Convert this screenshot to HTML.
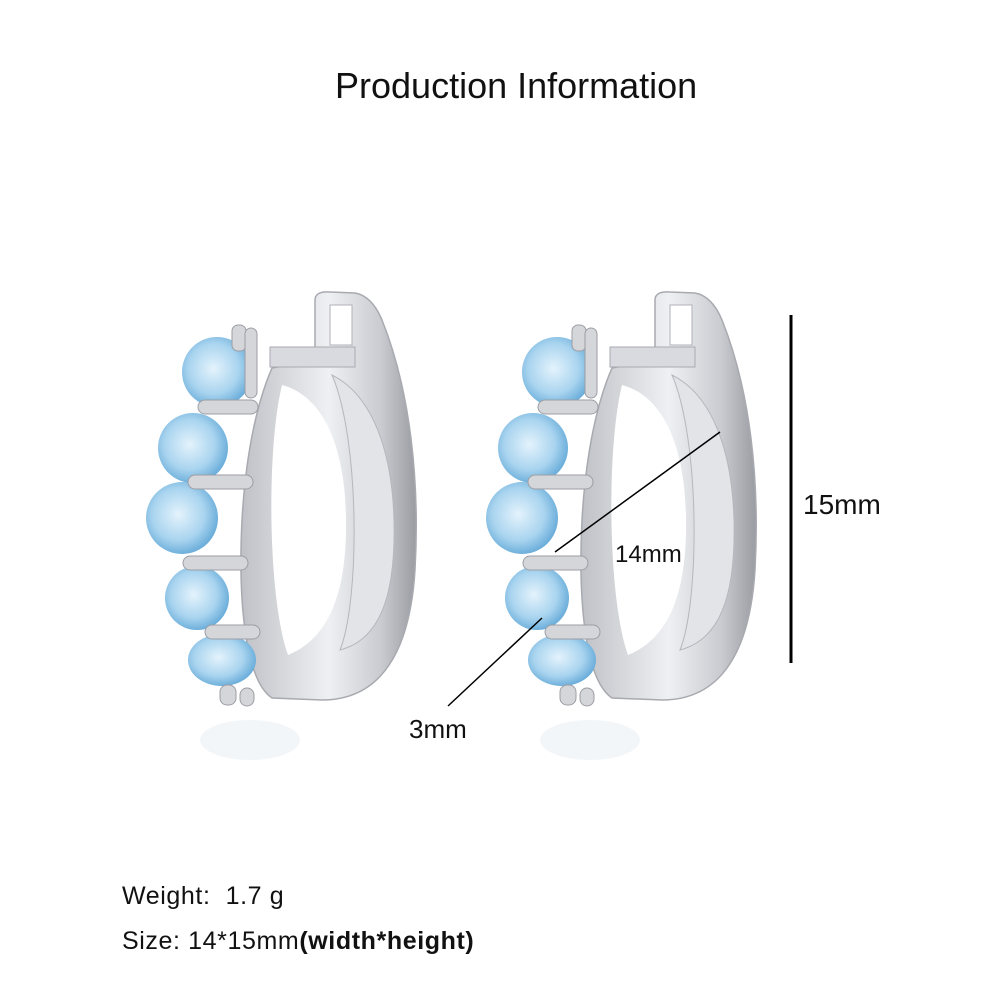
<!DOCTYPE html>
<html><head><style>
body{margin:0;background:#fff;width:1000px;height:1000px;overflow:hidden;position:relative;font-family:"Liberation Sans",sans-serif;color:#111}
.t{position:absolute;white-space:nowrap}
</style></head><body>
<svg width="1000" height="1000" style="position:absolute;left:0;top:0">
<defs>
<linearGradient id="s" x1="0" x2="1" y1="0" y2="0">
<stop offset="0" stop-color="#bfc1c6"/><stop offset="0.5" stop-color="#eef0f3"/><stop offset="0.8" stop-color="#c9cbd0"/><stop offset="1" stop-color="#9a9ca2"/>
</linearGradient>
<radialGradient id="b" cx="0.45" cy="0.45" r="0.6">
<stop offset="0" stop-color="#e4f3fc"/><stop offset="0.6" stop-color="#a9d4ef"/><stop offset="1" stop-color="#5fa6d6"/>
</radialGradient>
<g id="e">
<path d="M315,300 Q315,291 330,292 L355,293 Q372,296 382,320 C410,390 420,480 415,570 C410,650 382,700 322,700 L272,698 C245,680 238,600 242,520 C246,450 258,400 272,368 L315,360 Z" fill="url(#s)" stroke="#a8aab0" stroke-width="1.5"/>
<path d="M330,305 L352,305 L352,345 L330,345 Z" fill="#fff" stroke="#b0b2b8"/>
<path d="M332,375 C372,395 392,450 394,520 C396,600 378,640 340,650 C360,600 360,440 332,375 Z" fill="#e2e4e8" stroke="#b5b7bc"/>
<path d="M282,385 C320,395 345,440 346,520 C347,600 325,640 288,655 C268,600 266,450 282,385 Z" fill="#fff"/>
<rect x="270" y="347" width="85" height="20" fill="#d8dadf" stroke="#a8aab0"/>
<circle cx="217" cy="372" r="35" fill="url(#b)"/>
<circle cx="193" cy="448" r="35" fill="url(#b)"/>
<circle cx="182" cy="518" r="36" fill="url(#b)"/>
<circle cx="197" cy="598" r="32" fill="url(#b)"/>
<ellipse cx="222" cy="660" rx="34" ry="26" fill="url(#b)"/>
<g fill="#d4d6da" stroke="#9c9ea4">
<rect x="232" y="325" width="14" height="26" rx="6"/><rect x="245" y="328" width="12" height="70" rx="6"/>
<rect x="198" y="400" width="60" height="14" rx="7"/><rect x="188" y="475" width="65" height="14" rx="7"/>
<rect x="183" y="556" width="65" height="14" rx="7"/><rect x="205" y="625" width="55" height="14" rx="7"/>
<rect x="220" y="685" width="16" height="20" rx="7"/><rect x="240" y="688" width="14" height="18" rx="7"/>
</g>
</g>
</defs>
<use href="#e"/>
<use href="#e" transform="translate(340,0)"/>
<ellipse cx="250" cy="740" rx="50" ry="20" fill="#eef2f6" opacity="0.7"/>
<ellipse cx="590" cy="740" rx="50" ry="20" fill="#eef2f6" opacity="0.7"/>
<line x1="791" y1="315" x2="791" y2="663" stroke="#000" stroke-width="3"/>
<line x1="720" y1="432" x2="555" y2="552" stroke="#000" stroke-width="1.5"/>
<line x1="542" y1="618" x2="448" y2="706" stroke="#000" stroke-width="1.5"/>
</svg>
<div class="t" style="left:335px;top:65px;font-size:36px">Production Information</div>
<div class="t" style="left:803px;top:489px;font-size:28px">15mm</div>
<div class="t" style="left:615px;top:541px;font-size:24px">14mm</div>
<div class="t" style="left:409px;top:714px;font-size:26px">3mm</div>
<div class="t" style="left:122px;top:882px;font-size:25px;letter-spacing:0.6px">Weight:&nbsp; 1.7 g</div>
<div class="t" style="left:122px;top:927px;font-size:25px;letter-spacing:0.6px">Size: 14*15mm<b>(width*height)</b></div>
</body></html>
